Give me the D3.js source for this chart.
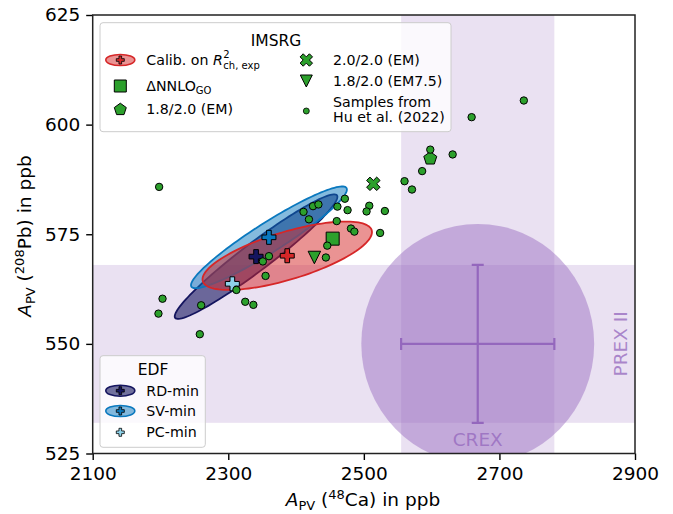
<!DOCTYPE html>
<html>
<head>
<meta charset="utf-8">
<script src="https://cdn.jsdelivr.net/npm/d3@7"></script>
<style>
  body { margin: 0; background: #fff; }
  text { font-family: "DejaVu Sans", sans-serif; }
</style>
</head>
<body>
<div class="chart"></div>
<script>
// ticks
const xTicks = [2100, 2300, 2500, 2700, 2900];
const yTicks = [525, 550, 575, 600, 625];

// experiments: [central, total error]
const crex = [2668, 113];
const prex = [550, 18];
const expEllipseScale = 1.52;

// samples from Hu et al. (2022)
const sampleCa = [2198, 2203, 2197, 2260, 2258, 2312, 2325, 2337, 2351, 2360, 2355,
  2411, 2419, 2425, 2433, 2472, 2461, 2476, 2460, 2481, 2486, 2446, 2444,
  2508, 2504, 2531, 2524, 2560, 2571, 2736, 2659, 2598, 2631, 2586];
const samplePb = [585.8, 560.3, 556.9, 558.8, 552.2, 562.3, 559.6, 558.9, 568.8, 570.0, 565.5,
  580.1, 578.4, 581.4, 581.8, 583.1, 581.3, 580.5, 578.0, 576.3, 575.6, 572.4, 569.7,
  581.5, 580.2, 580.3, 575.3, 587.1, 585.2, 605.5, 601.7, 594.3, 593.2, 589.4];

// IMSRG single interactions
const imsrgMarkers = ["square", "pent", "x", "tri"];
const imsrgCa = [2454, 2598, 2514, 2427];
const imsrgPb = [574.0, 592.5, 586.5, 569.7];

// ellipses: centre, sigma, correlation
const ellNames = ["RD-min", "SV-min", "Calib"];
const ellCa = [2341, 2360, 2387];
const ellPb = [569.9, 574.3, 570.1];
const ellSigCa = [120, 115, 125];
const ellSigPb = [14.2, 11.6, 7.8];
const ellRho = [0.96, 0.94, 0.69];
const ellEdge = ["#15155f", "#0a78be", "#d62728"];
const ellFillOpacity = [0.6, 0.5, 0.5];

// PC-min point
const pcCa = 2306, pcPb = 563.7;

const width = 673, height = 514;
const purple = "#9467bd", green = "#2ca02c";

const svg = d3.select(".chart").append("svg")
  .attr("width", width).attr("height", height);

const x = d3.scaleLinear().domain([2100, 2900]).range([92.7, 635]);
const y = d3.scaleLinear().domain([525, 625]).range([453.5, 15]);

svg.append("clipPath").attr("id", "clip").append("rect")
  .attr("x", x(2100)).attr("y", y(625))
  .attr("width", x(2900) - x(2100)).attr("height", y(525) - y(625));

const plot = svg.append("g").attr("clip-path", "url(#clip)");

function markerPath(type, s) {
  const h = s / 2, a = s / 6;
  let pts;
  if (type === "plus" || type === "x") {
    pts = [[-a, -h], [a, -h], [a, -a], [h, -a], [h, a], [a, a], [a, h], [-a, h], [-a, a], [-h, a], [-h, -a], [-a, -a]];
    if (type === "x") {
      const c = Math.SQRT1_2 * 1.1;
      pts = pts.map(p => [(p[0] - p[1]) * c, (p[0] + p[1]) * c]);
    }
  } else if (type === "square") {
    pts = [[-h, -h], [h, -h], [h, h], [-h, h]];
  } else if (type === "tri") {
    pts = [[-h, -h], [h, -h], [0, h]];
  } else if (type === "pent") {
    pts = d3.range(5).map(k => {
      const ang = -Math.PI / 2 + k * 2 * Math.PI / 5;
      return [h * 1.05 * Math.cos(ang), h * 1.05 * Math.sin(ang) + 1];
    });
  }
  return "M" + pts.map(p => p.join(",")).join("L") + "Z";
}

// experimental bands
plot.append("rect")
  .attr("x", x(crex[0] - crex[1])).attr("y", y(625))
  .attr("width", x(crex[0] + crex[1]) - x(crex[0] - crex[1]))
  .attr("height", y(525) - y(625))
  .attr("fill", purple).attr("fill-opacity", 0.2);
plot.append("rect")
  .attr("x", x(2100)).attr("y", y(prex[0] + prex[1]))
  .attr("width", x(2900) - x(2100))
  .attr("height", y(prex[0] - prex[1]) - y(prex[0] + prex[1]))
  .attr("fill", purple).attr("fill-opacity", 0.2);
plot.append("ellipse")
  .attr("cx", x(crex[0])).attr("cy", y(prex[0]))
  .attr("rx", x(crex[0] + expEllipseScale * crex[1]) - x(crex[0]))
  .attr("ry", y(prex[0]) - y(prex[0] + expEllipseScale * prex[1]))
  .attr("fill", purple).attr("fill-opacity", 0.45);

// error bars
const eb = plot.append("g").attr("stroke", purple).attr("stroke-width", 2.2);
eb.append("line").attr("x1", x(crex[0] - crex[1])).attr("x2", x(crex[0] + crex[1]))
  .attr("y1", y(prex[0])).attr("y2", y(prex[0]));
eb.append("line").attr("x1", x(crex[0])).attr("x2", x(crex[0]))
  .attr("y1", y(prex[0] - prex[1])).attr("y2", y(prex[0] + prex[1]));
[crex[0] - crex[1], crex[0] + crex[1]].forEach(v => eb.append("line")
  .attr("x1", x(v)).attr("x2", x(v)).attr("y1", y(prex[0]) - 6).attr("y2", y(prex[0]) + 6));
[prex[0] - prex[1], prex[0] + prex[1]].forEach(v => eb.append("line")
  .attr("y1", y(v)).attr("y2", y(v)).attr("x1", x(crex[0]) - 6).attr("x2", x(crex[0]) + 6));

plot.append("text").attr("x", x(crex[0])).attr("y", 446)
  .attr("text-anchor", "middle").attr("font-size", 18.5)
  .attr("fill", purple).attr("fill-opacity", 0.75).text("CREX");
plot.append("text").attr("transform", `translate(627,${y(prex[0])}) rotate(-90)`)
  .attr("text-anchor", "middle").attr("font-size", 18.5)
  .attr("fill", purple).attr("fill-opacity", 0.75).text("PREX II");

// ellipses
const line = d3.line().curve(d3.curveLinearClosed);
ellNames.forEach((n, i) => {
  const pts = d3.range(120).map(k => {
    const t = k / 120 * 2 * Math.PI;
    const ca = ellCa[i] + ellSigCa[i] * Math.cos(t);
    const pb = ellPb[i] + ellSigPb[i] * (ellRho[i] * Math.cos(t) + Math.sqrt(1 - ellRho[i] ** 2) * Math.sin(t));
    return [x(ca), y(pb)];
  });
  plot.append("path").attr("d", line(pts))
    .attr("fill", ellEdge[i]).attr("fill-opacity", ellFillOpacity[i])
    .attr("stroke", ellEdge[i]).attr("stroke-width", 1.8);
});

// IMSRG markers
imsrgMarkers.forEach((m, i) => {
  plot.append("path").attr("d", markerPath(m, m === "tri" ? 12.5 : 13))
    .attr("transform", `translate(${x(imsrgCa[i])},${y(imsrgPb[i])})`)
    .attr("fill", green).attr("stroke", "#000").attr("stroke-width", 1);
});

// centre crosses
ellNames.forEach((n, i) => {
  plot.append("path").attr("d", markerPath("plus", 14))
    .attr("transform", `translate(${x(ellCa[i])},${y(ellPb[i])})`)
    .attr("fill", ellEdge[i]).attr("stroke", "#000").attr("stroke-width", 1);
});
plot.append("path").attr("d", markerPath("plus", 14))
  .attr("transform", `translate(${x(pcCa)},${y(pcPb)})`)
  .attr("fill", "#8fd3ea").attr("stroke", "#000").attr("stroke-width", 1);

// samples
plot.selectAll(".dot").data(sampleCa).enter().append("circle")
  .attr("class", "dot")
  .attr("cx", d => x(d)).attr("cy", (d, i) => y(samplePb[i]))
  .attr("r", 3.7).attr("fill", green).attr("stroke", "#000").attr("stroke-width", 1);

// axes
const xAxis = svg.append("g").attr("transform", `translate(0,${y(525)})`)
  .call(d3.axisBottom(x).tickValues(xTicks).tickFormat(d3.format("d")).tickSize(6.5).tickPadding(6));
const yAxis = svg.append("g").attr("transform", `translate(${x(2100)},0)`)
  .call(d3.axisLeft(y).tickValues(yTicks).tickFormat(d3.format("d")).tickSize(6.5).tickPadding(6));
[xAxis, yAxis].forEach(g => {
  g.selectAll("text").attr("font-size", 18.5).attr("fill", "#000").attr("font-family", "DejaVu Sans");
  g.selectAll("line").attr("stroke", "#000").attr("stroke-width", 1.4);
  g.select(".domain").remove();
});
xAxis.selectAll("text").attr("dy", "0.78em");
svg.append("rect").attr("x", x(2100)).attr("y", y(625))
  .attr("width", x(2900) - x(2100)).attr("height", y(525) - y(625))
  .attr("fill", "none").attr("stroke", "#222").attr("stroke-width", 1.5);

// axis labels
const xl = svg.append("text").attr("x", 363).attr("y", 506)
  .attr("text-anchor", "middle").attr("font-size", 18.5);
xl.append("tspan").attr("font-style", "italic").text("A");
xl.append("tspan").attr("font-size", 13).attr("dy", 3.5).text("PV");
xl.append("tspan").attr("dy", -3.5).text(" (");
xl.append("tspan").attr("font-size", 13).attr("dy", -7).text("48");
xl.append("tspan").attr("dy", 7).text("Ca) in ppb");

const yl = svg.append("text").attr("transform", "translate(31,236) rotate(-90)")
  .attr("text-anchor", "middle").attr("font-size", 18.5);
yl.append("tspan").attr("font-style", "italic").text("A");
yl.append("tspan").attr("font-size", 13).attr("dy", 3.5).text("PV");
yl.append("tspan").attr("dy", -3.5).text(" (");
yl.append("tspan").attr("font-size", 13).attr("dy", -7).text("208");
yl.append("tspan").attr("dy", 7).text("Pb) in ppb");

// legends
function legendBox(x0, y0, w, h) {
  svg.append("rect").attr("x", x0).attr("y", y0).attr("width", w).attr("height", h)
    .attr("rx", 3).attr("fill", "#fff").attr("fill-opacity", 0.8)
    .attr("stroke", "#cccccc").attr("stroke-width", 1);
}
function ellHandle(cx, cy, col, op, crossCol) {
  svg.append("ellipse").attr("cx", cx).attr("cy", cy).attr("rx", 14.5).attr("ry", 5.5)
    .attr("fill", col).attr("fill-opacity", op).attr("stroke", col).attr("stroke-width", 1.6);
  svg.append("path").attr("d", markerPath("plus", 8)).attr("transform", `translate(${cx},${cy})`)
    .attr("fill", crossCol).attr("stroke", "#000").attr("stroke-width", 0.8);
}
function label(tx, ty, str) {
  return svg.append("text").attr("x", tx).attr("y", ty).attr("font-size", 14.2).text(str);
}

// IMSRG legend
legendBox(100, 22.7, 351, 109);
svg.append("text").attr("x", 276).attr("y", 45.5).attr("text-anchor", "middle")
  .attr("font-size", 15.5).text("IMSRG");
ellHandle(120.3, 60, ellEdge[2], 0.5, ellEdge[2]);
const cal = label(146.3, 65, "Calib. on ");
cal.append("tspan").attr("font-style", "italic").text("R");
const calEnd = 146.3 + cal.node().getComputedTextLength() + 0.5;
svg.append("text").attr("x", calEnd).attr("y", 57.5).attr("font-size", 10).text("2");
svg.append("text").attr("x", calEnd).attr("y", 68.5).attr("font-size", 10).text("ch, exp");

svg.append("path").attr("d", markerPath("square", 12)).attr("transform", "translate(120.3,86)")
  .attr("fill", green).attr("stroke", "#000").attr("stroke-width", 1);
const nn = label(146.3, 91, "ΔNNLO");
nn.append("tspan").attr("font-size", 10).attr("dy", 3).text("GO");

svg.append("path").attr("d", markerPath("pent", 12)).attr("transform", "translate(120.3,108.5)")
  .attr("fill", green).attr("stroke", "#000").attr("stroke-width", 1);
label(146.3, 114, "1.8/2.0 (EM)");

svg.append("path").attr("d", markerPath("x", 12)).attr("transform", "translate(306.3,60)")
  .attr("fill", green).attr("stroke", "#000").attr("stroke-width", 1);
label(333, 65, "2.0/2.0 (EM)");
svg.append("path").attr("d", markerPath("tri", 12)).attr("transform", "translate(306.3,81)")
  .attr("fill", green).attr("stroke", "#000").attr("stroke-width", 1);
label(333, 86, "1.8/2.0 (EM7.5)");
svg.append("circle").attr("cx", 306.3).attr("cy", 111).attr("r", 3)
  .attr("fill", green).attr("stroke", "#000").attr("stroke-width", 0.8);
label(333, 106.7, "Samples from");
label(333, 122.3, "Hu et al. (2022)");

// EDF legend
legendBox(100, 355.7, 105.3, 91.6);
svg.append("text").attr("x", 153).attr("y", 375).attr("text-anchor", "middle")
  .attr("font-size", 15.5).text("EDF");
ellHandle(120.3, 390.7, ellEdge[0], 0.6, ellEdge[0]);
label(146.3, 395.7, "RD-min");
ellHandle(120.3, 411, ellEdge[1], 0.5, ellEdge[1]);
label(146.3, 416, "SV-min");
svg.append("path").attr("d", markerPath("plus", 8)).attr("transform", "translate(120.3,432.3)")
  .attr("fill", "#8fd3ea").attr("stroke", "#000").attr("stroke-width", 0.8);
label(146.3, 437.3, "PC-min");
</script>
</body>
</html>
